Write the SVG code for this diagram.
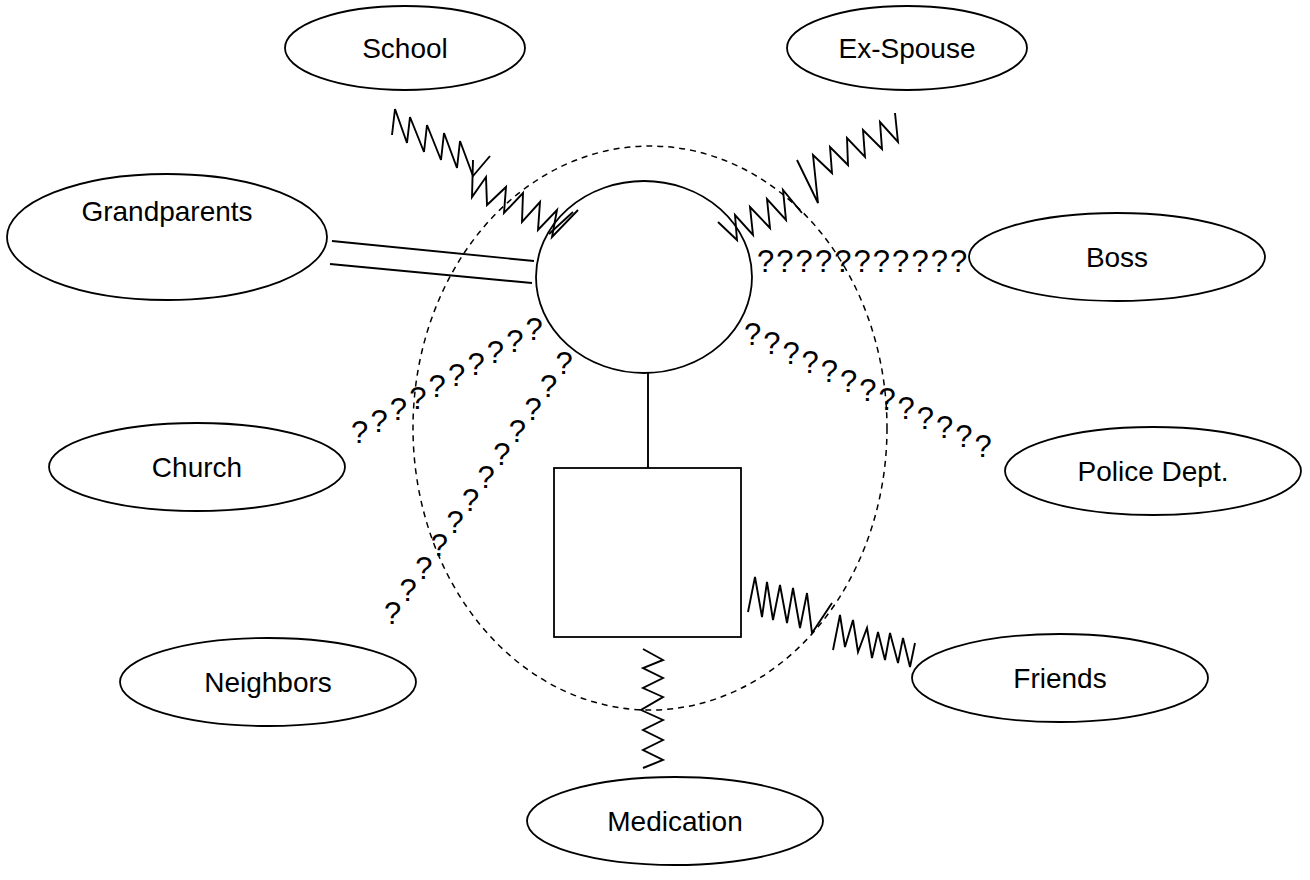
<svg xmlns="http://www.w3.org/2000/svg" width="1310" height="880" viewBox="0 0 1310 880">
<style>
.node{fill:#fff;stroke:#000;stroke-width:1.8}
.lbl{font-family:"Liberation Sans",Arial,sans-serif;font-size:28px;fill:#000;text-anchor:middle}
.q{font-family:"Liberation Sans",Arial,sans-serif;font-size:31px;fill:#000}
.ln{fill:none;stroke:#000;stroke-width:1.9;stroke-linejoin:miter}
.dash{fill:none;stroke:#000;stroke-width:1.5;stroke-dasharray:6,5}
</style>
<rect width="1310" height="880" fill="#fff"/>
<g id="school"><ellipse class="node" cx="405" cy="48" rx="120" ry="42"/><text class="lbl" x="405" y="58">School</text></g>
<g id="ex-spouse"><ellipse class="node" cx="907" cy="48" rx="120" ry="42"/><text class="lbl" x="907" y="58">Ex-Spouse</text></g>
<g id="grandparents"><ellipse class="node" cx="167" cy="237" rx="160" ry="63"/><text class="lbl" x="167" y="221">Grandparents</text></g>
<g id="boss"><ellipse class="node" cx="1117" cy="257" rx="148" ry="44"/><text class="lbl" x="1117" y="267">Boss</text></g>
<g id="church"><ellipse class="node" cx="197" cy="467" rx="148" ry="44"/><text class="lbl" x="197" y="477">Church</text></g>
<g id="police"><ellipse class="node" cx="1153" cy="471" rx="148" ry="44"/><text class="lbl" x="1153" y="481">Police Dept.</text></g>
<g id="neighbors"><ellipse class="node" cx="268" cy="682" rx="148" ry="44"/><text class="lbl" x="268" y="692">Neighbors</text></g>
<g id="friends"><ellipse class="node" cx="1060" cy="678" rx="148" ry="44"/><text class="lbl" x="1060" y="688">Friends</text></g>
<g id="medication"><ellipse class="node" cx="675" cy="821" rx="148" ry="44"/><text class="lbl" x="675" y="831">Medication</text></g>
<g id="person"><ellipse class="node" cx="644" cy="277" rx="108" ry="96"/></g>
<g id="child"><rect class="node" x="554" y="468" width="187" height="169"/></g>
<g id="household"><ellipse class="dash" cx="650" cy="428" rx="237" ry="282"/></g>
<g id="connectors">
<line class="ln" x1="648" y1="373" x2="648" y2="468"/>
<line class="ln" x1="332" y1="241" x2="534" y2="261"/>
<line class="ln" x1="330" y1="264" x2="532" y2="283"/>
<polyline class="ln" points="392,135 395,109 407,143 410,117 424,152 427,125 441,160 444,133 457,168 460,141 473,176 490,156"/>
<polyline class="ln" points="473,160 472,197 486,177 487,205 506,187 504,213 523,193 522,222 540,202 538,230 557,210 552,237 578,210"/>
<line class="ln" x1="549" y1="234" x2="573" y2="212"/>
<polyline class="ln" points="718,222 737,240 735,215 753,235 750,207 770,228 767,199 786,220 783,190 802,213"/>
<polyline class="ln" points="797,160 818,203 813,155 832,173 830,147 848,165 847,138 865,157 863,130 882,149 880,122 898,142 895,113"/>
<polyline class="ln" points="748,612 755,577 762,617 767,582 773,620 780,585 787,623 793,588 800,628 807,593 812,633 832,603"/>
<polyline class="ln" points="833,650 840,615 845,647 853,620 858,652 867,628 872,658 878,632 885,660 890,633 898,663 903,638 910,667 915,643"/>
<polyline class="ln" points="643,649 663,660 643,668 663,678 643,688 663,697 641,710 663,720 643,730 663,740 643,750 663,760 643,768"/>
<text class="q" x="757 776.3 795.6 814.9 834.2 853.5 872.8 892.1 911.4 930.7 950" y="272">???????????</text>
<g id="q-police">
<text class="q" x="744" y="345">?</text><text class="q" x="763.2" y="354.3">?</text><text class="q" x="782.4" y="363.6">?</text><text class="q" x="801.6" y="372.9">?</text><text class="q" x="820.8" y="382.2">?</text><text class="q" x="840" y="391.5">?</text><text class="q" x="859.2" y="400.8">?</text><text class="q" x="878.4" y="410.1">?</text><text class="q" x="897.6" y="419.4">?</text><text class="q" x="916.8" y="428.7">?</text><text class="q" x="936" y="438">?</text><text class="q" x="955.2" y="447.3">?</text><text class="q" x="974.4" y="456.6">?</text>
</g>
<g id="q-church">
<text class="q" x="351" y="443">?</text><text class="q" x="370.4" y="431.6">?</text><text class="q" x="389.8" y="420.2">?</text><text class="q" x="409.2" y="408.8">?</text><text class="q" x="428.6" y="397.4">?</text><text class="q" x="448" y="386">?</text><text class="q" x="467.4" y="374.6">?</text><text class="q" x="486.8" y="363.2">?</text><text class="q" x="506.2" y="351.8">?</text><text class="q" x="525.6" y="340.4">?</text>
</g>
<g id="q-neighbors">
<text class="q" x="384" y="624">?</text><text class="q" x="399.6" y="601.3">?</text><text class="q" x="415.2" y="578.6">?</text><text class="q" x="430.8" y="555.9">?</text><text class="q" x="446.4" y="533.2">?</text><text class="q" x="462" y="510.5">?</text><text class="q" x="477.6" y="487.8">?</text><text class="q" x="493.2" y="465.1">?</text><text class="q" x="508.8" y="442.4">?</text><text class="q" x="524.4" y="419.7">?</text><text class="q" x="540" y="397">?</text><text class="q" x="555.6" y="374.3">?</text>
</g>
</g>
</svg>
